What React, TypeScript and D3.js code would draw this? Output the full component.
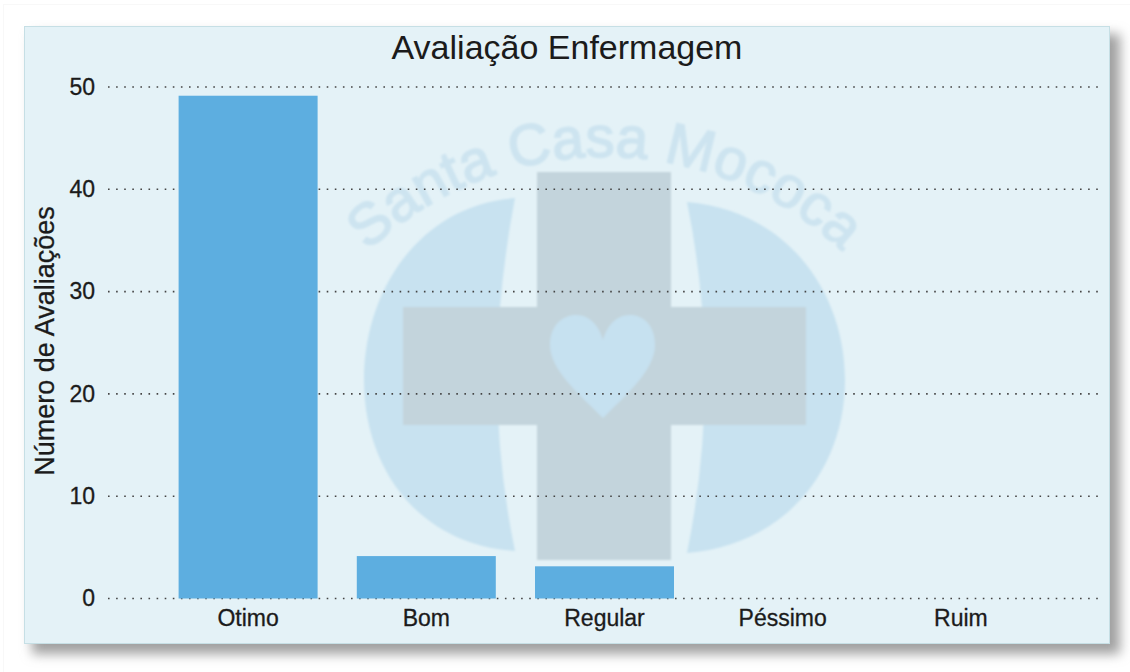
import React, { useEffect, useRef } from 'react';
import * as d3 from 'd3';

const categories = ['Otimo', 'Bom', 'Regular', 'Péssimo', 'Ruim'];
const values = [49, 4, 3, 0, 0];
const yTicks = [0, 10, 20, 30, 40, 50];
const title = 'Avaliação Enfermagem';
const yTitle = 'Número de Avaliações';
const watermark = 'Santa Casa Mococa';

const font = '"Liberation Sans", Arial, sans-serif';

const App = () => {
  const ref = useRef<SVGSVGElement | null>(null);

  useEffect(() => {
    const svg = d3.select(ref.current);
    svg.selectAll('*').remove();

    const x = d3.scaleBand().domain(categories).range([159, 1050]).paddingInner(0.22).paddingOuter(0.11);
    const y = d3.scaleLinear().domain([0, 50]).range([598.5, 87]);

    const defs = svg.append('defs');
    const shadow = defs.append('filter').attr('id', 'shadow').attr('x', '-5%').attr('y', '-5%').attr('width', '110%').attr('height', '110%');
    shadow.append('feGaussianBlur').attr('stdDeviation', 6);
    defs.append('filter').attr('id', 'soft').append('feGaussianBlur').attr('stdDeviation', 0.9);
    defs.append('path').attr('id', 'wm-arc').attr('d', 'M 364 255 A 345 345 0 0 1 846 255');

    svg.append('rect').attr('x', 3.5).attr('y', 4.5).attr('width', 1130).attr('height', 700)
      .attr('fill', '#ffffff').attr('stroke', '#f8f8f8');

    // panel
    svg.append('rect').attr('x', 32).attr('y', 34).attr('width', 1088).attr('height', 620)
      .attr('fill', '#a0a0a0').attr('filter', 'url(#shadow)');
    svg.append('rect').attr('x', 24.5).attr('y', 26.5).attr('width', 1085).attr('height', 617)
      .attr('fill', '#e4f2f7').attr('stroke', '#c6dfe5');

    // logo behind the chart
    const logo = svg.append('g').attr('filter', 'url(#soft)');
    logo.append('path').attr('fill', '#c8e2f0')
      .attr('d', 'M 515 198 C 420 205 364 290 364 380 C 364 470 420 545 515 551 Q 490 430 500 307 Q 505 250 515 198 Z');
    logo.append('path').attr('fill', '#c8e2f0')
      .attr('d', 'M 687 202 C 785 210 845 290 845 380 C 845 470 785 545 687 553 Q 712 430 702 307 Q 697 250 687 202 Z');
    logo.append('rect').attr('x', 537).attr('y', 172).attr('width', 134).attr('height', 388).attr('fill', '#c3d4dc');
    logo.append('rect').attr('x', 403).attr('y', 307).attr('width', 403).attr('height', 118).attr('fill', '#c3d4dc');
    logo.append('path').attr('fill', '#c6e1f0')
      .attr('d', 'M 603 418 C 580 395 550 370 550 345 C 550 325 563 315 576 315 C 590 315 599 326 603 340 C 607 326 616 315 630 315 C 643 315 655 325 655 345 C 655 370 626 395 603 418 Z');
    logo.append('text')
      .attr('font-family', font).attr('font-size', 58).attr('fill', '#cde4f0')
      .attr('stroke', '#cde4f0').attr('stroke-width', 1.6)
      .append('textPath').attr('href', '#wm-arc').attr('startOffset', '50%').attr('text-anchor', 'middle')
      .text(watermark);

    // grid
    const grid = svg.append('g');
    grid.selectAll('line').data(yTicks).enter().append('line')
      .attr('x1', 108).attr('x2', 1103)
      .attr('y1', d => y(d)).attr('y2', d => y(d))
      .attr('stroke', '#444444').attr('stroke-width', 1.6).attr('stroke-dasharray', '1.6 6.5');

    // bars
    svg.append('g').selectAll('rect').data(values).enter().append('rect')
      .attr('x', (d, i) => x(categories[i]) as number)
      .attr('width', x.bandwidth())
      .attr('y', d => y(d) - (d > 0 ? 1.5 : 0))
      .attr('height', d => (d > 0 ? y(0) - y(d) + 1.5 : 0))
      .attr('fill', '#5daee0');

    const text = '#1b1b1b';

    // axes
    const yAxis = svg.append('g').attr('transform', 'translate(95,-0.5)')
      .call(d3.axisLeft(y).tickValues(yTicks).tickSize(0).tickPadding(0));
    yAxis.select('.domain').remove();
    yAxis.selectAll('text').attr('font-family', font).attr('font-size', 23).attr('fill', text)
      .attr('stroke', text).attr('stroke-width', 0.3).attr('dy', '0.34em');

    const xAxis = svg.append('g').attr('transform', 'translate(0,598)')
      .call(d3.axisBottom(x).tickSize(0).tickPadding(12));
    xAxis.select('.domain').remove();
    xAxis.selectAll('text').attr('font-family', font).attr('font-size', 23).attr('fill', text)
      .attr('stroke', text).attr('stroke-width', 0.3);

    svg.append('text').attr('x', 567).attr('y', 59).attr('text-anchor', 'middle')
      .attr('font-family', font).attr('font-size', 34).attr('fill', text).text(title);

    svg.append('text').attr('transform', 'translate(54,341) rotate(-90)').attr('text-anchor', 'middle')
      .attr('font-family', font).attr('font-size', 27).attr('fill', text)
      .attr('stroke', text).attr('stroke-width', 0.3).text(yTitle);
  }, []);

  return (
    <svg ref={ref} width={1130} height={672} style={{ position: 'absolute', left: 0, top: 0, background: '#ffffff' }} />
  );
};

export default App;
